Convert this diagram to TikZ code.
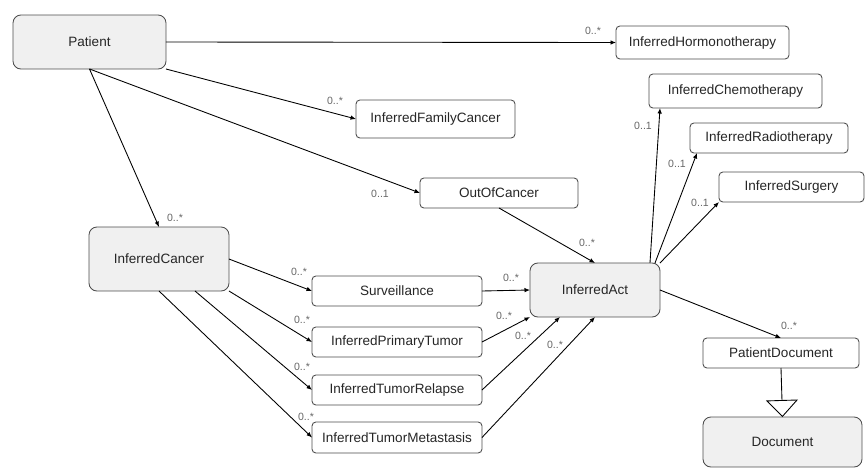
\documentclass[tikz,border=0pt]{standalone}
\usepackage{fontspec}
\setmainfont{Liberation Sans}
\usetikzlibrary{arrows.meta}

\begin{document}
\begin{tikzpicture}[x=0.02cm,y=-0.02cm,>={Latex[length=1.1mm,width=0.9mm]},line width=0.5pt,
  cls/.style={draw=black!70,rounded corners=2.2pt,fill=white,inner sep=0pt,outer sep=0pt,text=black!85,font=\fontsize{7.7}{9}\selectfont,minimum height=0.6cm},
  top/.style={cls,fill=black!6,rounded corners=4.5pt},
  mult/.style={inner sep=0pt,text=black!60,font=\fontsize{6}{7}\selectfont},
  isa/.style={-{Triangle[open,width=0.64cm,length=0.34cm]}}]
\useasboundingbox (0,0) rectangle (867,474);
\node[top,minimum width=3.06cm,minimum height=1.08cm] (Patient) at (89.5,42) {Patient};
\node[cls,minimum width=3.46cm,minimum height=0.66cm] (Hormo) at (702.5,42.5) {InferredHormonotherapy};
\node[cls,minimum width=3.18cm,minimum height=0.76cm] (Family) at (435.5,119) {InferredFamilyCancer};
\node[cls,minimum width=3.16cm] (Out) at (499,193) {OutOfCancer};
\node[cls,minimum width=3.46cm,minimum height=0.68cm] (Chemo) at (735.5,91) {InferredChemotherapy};
\node[cls,minimum width=3.16cm] (Radio) at (769,138) {InferredRadiotherapy};
\node[cls,minimum width=2.90cm] (Surgery) at (791.5,187) {InferredSurgery};
\node[top,minimum width=2.80cm,minimum height=1.28cm] (Cancer) at (159,259) {InferredCancer};
\node[cls,minimum width=3.40cm] (Surv) at (397,291) {Surveillance};
\node[cls,minimum width=3.40cm] (Primary) at (397,342) {InferredPrimaryTumor};
\node[cls,minimum width=3.40cm] (Relapse) at (397,390) {InferredTumorRelapse};
\node[cls,minimum width=3.40cm,minimum height=0.62cm] (Meta) at (397,437.5) {InferredTumorMetastasis};
\node[top,minimum width=2.60cm,minimum height=1.08cm] (Act) at (595,290) {InferredAct};
\node[cls,minimum width=3.12cm] (PatDoc) at (781,353) {PatientDocument};
\node[top,minimum width=3.18cm,minimum height=1.00cm] (Doc) at (782.5,442) {Document};
% multiplicities
\node[mult] (mHormo) at (593,31) {0..*};
\node[mult] (mFamily) at (335,101) {0..*};
\node[mult] (mOut) at (380,194) {0..1};
\node[mult] (mCancer) at (175,218) {0..*};
\node[mult] (mOutAct) at (587,243) {0..*};
\node[mult] (mSurv) at (299,272) {0..*};
\node[mult] (mPrimary) at (302,320) {0..*};
\node[mult] (mRelapse) at (302,367) {0..*};
\node[mult] (mMeta) at (306,417) {0..*};
\node[mult] (mSurvAct) at (511,278) {0..*};
\node[mult] (mPrimaryAct) at (504,316) {0..*};
\node[mult] (mRelapseAct) at (523,336) {0..*};
\node[mult] (mMetaAct) at (555,345) {0..*};
\node[mult] (mChemo) at (643,126) {0..1};
\node[mult] (mRadio) at (677,164) {0..1};
\node[mult] (mSurgery) at (700,203) {0..1};
\node[mult] (mPatDoc) at (789,326) {0..*};
\draw[->] (Patient.east) -- (Hormo.west);
\draw[->] (Patient.south east) -- (Family.west);
\draw[->] (Patient.south) -- (Out.west);
\draw[->] (Patient.south) -- (Cancer.north);
\draw[->] (Out.south) -- (Act.north);
\draw[->] (Cancer.east) -- (Surv.west); \draw[->] (Cancer.south east) -- (Primary.west);
\draw[->] ([xshift=0.72cm]Cancer.south) -- (Relapse.west); \draw[->] (Cancer.south) -- (Meta.west);
\draw[->] (Surv.east) -- (Act.west); \draw[->] (Primary.east) -- (Act.south west);
\draw[->] (Relapse.east) -- ([xshift=-0.7cm]Act.south); \draw[->] (Meta.east) -- (Act.south);
\draw[->] ([xshift=1.1cm]Act.north) -- ([xshift=0.22cm]Chemo.south west);
\draw[->] ([xshift=1.2cm]Act.north) -- ([xshift=0.14cm]Radio.south west);
\draw[->] (Act.north east) -- (Surgery.south west);
\draw[->] (Act.east) -- (PatDoc.north);
\draw[isa] (PatDoc.south) -- (Doc.north);
\end{tikzpicture}
\end{document}
